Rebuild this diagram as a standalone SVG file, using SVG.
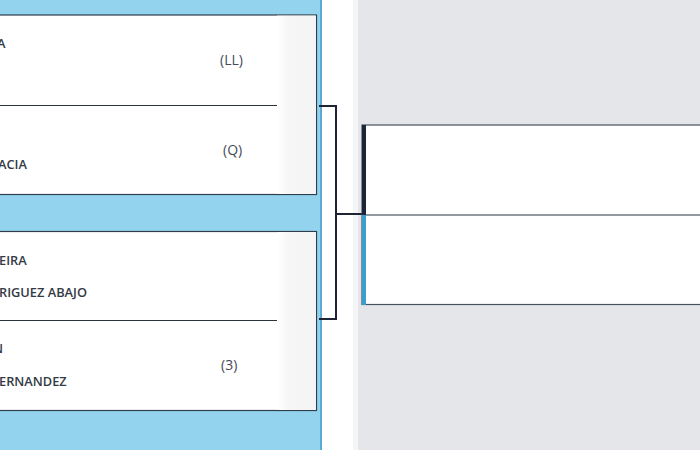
<svg xmlns="http://www.w3.org/2000/svg" width="700" height="450" viewBox="0 0 700 450">
<defs>
<style>
.name{font-family:"Open Sans","Noto Sans",sans-serif;font-size:12.8px;font-weight:600;fill:#333a44;}
.seed{font-family:"Open Sans","Noto Sans",sans-serif;font-size:14px;fill:#444b55;}
.card{fill:#ffffff;stroke:#2f3d4c;stroke-width:1.2;}
.div{stroke:#2a3340;stroke-width:1.2;}
.conn{fill:none;stroke:#1e2433;stroke-width:2;}
</style>
<linearGradient id="fade" x1="0" y1="0" x2="1" y2="0">
<stop offset="0" stop-color="#ffffff"/>
<stop offset="0.3" stop-color="#f6f6f6"/>
<stop offset="1" stop-color="#f5f5f5"/>
</linearGradient>
</defs>
<rect x="0" y="0" width="700" height="450" fill="#ffffff"/>
<rect x="0" y="0" width="320" height="450" fill="#93d3ee"/>
<rect x="320" y="0" width="2" height="450" fill="#5aa9d6"/>
<rect x="353" y="0" width="5" height="450" fill="#f4f5f6"/>
<rect x="358" y="0" width="342" height="450" fill="#e4e6ea"/>

<g id="match1">
<rect class="card" x="-2" y="15" width="318.5" height="179.5"/>
<rect x="277" y="15.6" width="38.8" height="178.3" fill="url(#fade)"/>
<line class="div" x1="-2" y1="105.5" x2="277" y2="105.5"/>
<text class="name" x="-3" y="48">A</text>
<text class="seed" x="220" y="65">(LL)</text>
<text class="seed" x="223" y="155">(Q)</text>
<text class="name" x="-2" y="169">ACIA</text>
</g>

<g id="match2">
<rect class="card" x="-2" y="231.5" width="318.5" height="179"/>
<rect x="277" y="232.1" width="38.8" height="177.8" fill="url(#fade)"/>
<line class="div" x1="-2" y1="320.5" x2="277" y2="320.5"/>
<text class="name" x="-1" y="265">EIRA</text>
<text class="name" x="-1" y="297">RIGUEZ ABAJO</text>
<text class="name" x="-7" y="353">N</text>
<text class="name" x="-1" y="386">ERNANDEZ</text>
<text class="seed" x="221" y="370">(3)</text>
</g>

<g id="connectors">
<path class="conn" d="M319,106 H336 V319 H319"/>
<path class="conn" d="M336,214 H364"/>
</g>

<g id="match3">
<rect x="362" y="125" width="340" height="179.5" fill="#ffffff" stroke="#4a5260" stroke-width="1.2"/>
<line x1="362" y1="215" x2="700" y2="215" stroke="#2a3340" stroke-width="1.2"/>
<rect x="362" y="125" width="4" height="90" fill="#1c2636"/>
<rect x="362" y="215" width="4" height="90" fill="#3a9fd0"/>
</g>
</svg>
